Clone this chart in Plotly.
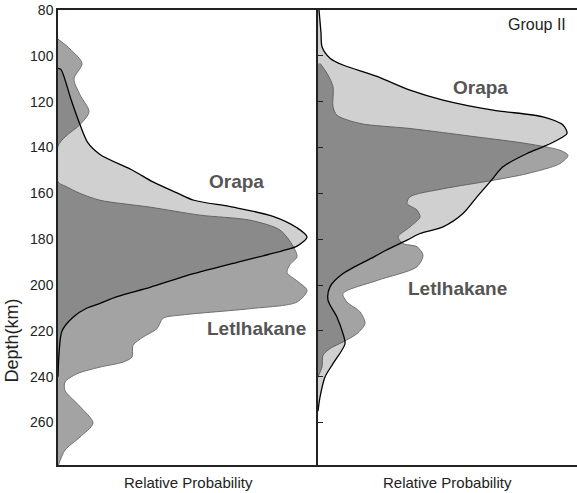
import plotly.graph_objects as go
from plotly.subplots import make_subplots

# ---- data (relative probability, arbitrary units) ----
left_orapa_depth = [105.5, 106, 119, 130, 138, 143, 150, 155, 160, 163, 166, 170, 175, 179,
                    183, 185, 190, 196, 201, 205, 208, 210, 214, 220, 230, 240]
left_orapa_prob = [0, 3, 13, 22, 30, 42, 75, 95, 120, 136, 175, 215, 239, 249,
                   239, 225, 180, 128, 92, 59, 42, 29, 15, 4, 1, 0]

left_letl_depth = [92.7, 97, 103.3, 110, 117, 124.4, 130, 135, 139.3, 155, 157, 160, 163, 166,
                   169.5, 171.7, 176, 183, 187.7, 191, 194.5, 198.5, 202.3, 207.4, 210.3, 213,
                   214.5, 219, 222.7, 226.3, 231.4, 233.6, 235.8, 238.7, 242.3, 246, 253,
                   260.2, 266.3, 272, 279]
left_letl_prob = [0, 12, 24, 16, 22, 31, 22, 8, 0, 0, 8, 22, 42, 92,
                  142, 192, 222, 235, 239, 232, 229, 240, 249, 239, 192, 125,
                  105, 99, 85, 75, 74, 65, 42, 19, 7, 7, 22,
                  35, 22, 7, 0]

right_orapa_depth = [80, 90, 96, 101, 104, 109, 115, 119.3, 123.7, 126.6, 130.2, 133.8, 136.8,
                     139.7, 142.6, 148.4, 155, 161.5, 168.8, 174.6, 177.5, 180.4, 184.8,
                     187.7, 195, 200.8, 206.6, 214, 221.2, 225.6, 234.3, 240.1, 248.9, 255]
right_orapa_prob = [1, 3, 4, 12, 25, 59, 92, 125, 175, 225, 245, 249, 239,
                    225, 209, 185, 172, 159, 145, 125, 102, 89, 68,
                    56, 25, 12, 10, 19, 25, 27, 15, 7, 2, 0]

right_letl_depth = [103.3, 107.6, 113.5, 122.2, 125.9, 129.5, 131.7, 135.4, 138.3, 141.2, 143.4,
                    147, 151.4, 154.3, 158, 161.5, 164.4, 167.3, 170.3, 174.6, 179, 181.9,
                    183.3, 187, 192, 198, 203.7, 207.4, 211.7, 216.8, 221.2, 224.8, 227.7,
                    230.7, 235.7, 240]
right_letl_prob = [2, 9, 15, 15, 19, 42, 92, 159, 209, 242, 250,
                   242, 209, 175, 125, 92, 89, 99, 102, 92, 80, 85,
                   99, 105, 99, 59, 25, 29, 42, 47, 39, 25, 12,
                   5, 4, 0]

depth_ticks = [80, 100, 120, 140, 160, 180, 200, 220, 240, 260]

LETL_FILL = "#a3a3a3"
LETL_LINE = "#707070"
ORAPA_FILL = "rgba(59,59,60,0.24)"
LABEL_GRAY = "#555555"
FONT = "Liberation Sans, Arial, sans-serif"

fig = make_subplots(rows=1, cols=2, shared_yaxes=False, horizontal_spacing=0)

panels = [
    (1, left_letl_prob, left_letl_depth, left_orapa_prob, left_orapa_depth),
    (2, right_letl_prob, right_letl_depth, right_orapa_prob, right_orapa_depth),
]
for col, lp, ld, op, od in panels:
    fig.add_trace(go.Scatter(
        x=lp, y=ld, mode="lines", fill="tozerox", fillcolor=LETL_FILL,
        line=dict(color=LETL_LINE, width=1, shape="spline", smoothing=0.8),
        hoverinfo="skip", showlegend=False), row=1, col=col)
    fig.add_trace(go.Scatter(
        x=op, y=od, mode="lines", fill="tozerox", fillcolor=ORAPA_FILL,
        line=dict(color="black", width=1.3, shape="spline", smoothing=0.8),
        hoverinfo="skip", showlegend=False), row=1, col=col)

axis_line = dict(showline=True, linecolor="#222222", linewidth=1.5, showgrid=False,
                 zeroline=False)

fig.update_xaxes(range=[0, 260], domain=[0, 260 / 519], showticklabels=False, ticks="",
                 mirror=True, row=1, col=1, **axis_line)
fig.update_xaxes(range=[0, 259], domain=[260 / 519, 1], showticklabels=False, ticks="",
                 mirror=True, row=1, col=2, **axis_line)
fig.update_yaxes(range=[278.5, 80], tickvals=depth_ticks, ticks="",
                 tickfont=dict(family=FONT, size=14, color="#222222"),
                 row=1, col=1, **axis_line)
fig.update_yaxes(range=[278.5, 80], tickvals=depth_ticks, ticks="inside", ticklen=5,
                 tickcolor="#222222", showticklabels=False, row=1, col=2, **axis_line)

annotations = [
    dict(text="<b>Orapa</b>", x=178, y=154.8, xref="x", yref="y", size=19, color=LABEL_GRAY),
    dict(text="<b>Letlhakane</b>", x=198, y=219, xref="x", yref="y", size=19, color=LABEL_GRAY),
    dict(text="<b>Orapa</b>", x=162, y=114, xref="x2", yref="y2", size=19, color=LABEL_GRAY),
    dict(text="<b>Letlhakane</b>", x=139, y=201.3, xref="x2", yref="y2", size=19, color=LABEL_GRAY),
    dict(text="Group II", x=219, y=86.5, xref="x2", yref="y2", size=16, color="#222222"),
]
for a in annotations:
    fig.add_annotation(text=a["text"], x=a["x"], y=a["y"], xref=a["xref"], yref=a["yref"],
                       showarrow=False, font=dict(family=FONT, size=a["size"], color=a["color"]))

for xref in ["x domain", "x2 domain"]:
    fig.add_annotation(text="Relative Probability", x=0.5, y=0, xref=xref, yref="paper",
                       yanchor="top", yshift=-7, showarrow=False,
                       font=dict(family=FONT, size=15, color="#222222"))

fig.add_annotation(text="Depth(km)", x=-0.088, y=224, xref="paper", yref="y", textangle=-90,
                   xanchor="center", yanchor="middle", showarrow=False,
                   font=dict(family=FONT, size=18, color="#222222"))

fig.update_layout(width=577, height=493, margin=dict(l=58, r=0, t=10, b=28),
                  plot_bgcolor="white", paper_bgcolor="white")

# page body has a default 8px margin; drop it so the figure fills the window
fig.write_html("out.html", config={"displayModeBar": False},
               post_script="document.body.style.margin='0';")
